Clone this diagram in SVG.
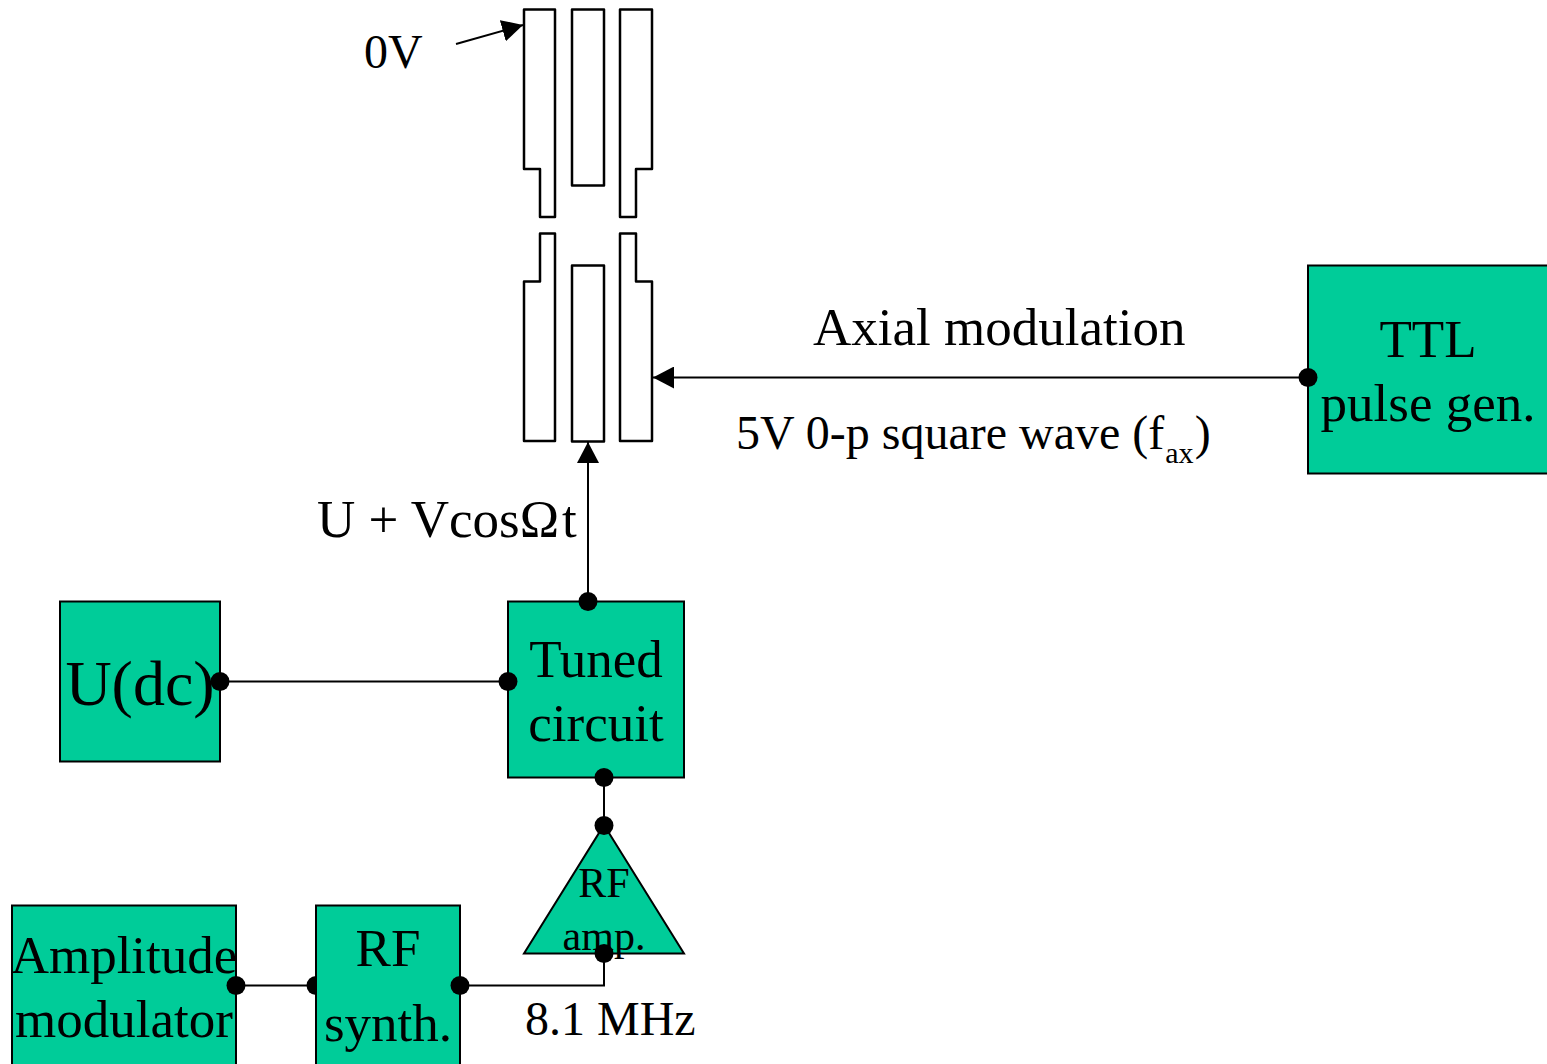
<svg xmlns="http://www.w3.org/2000/svg" width="1547" height="1064" viewBox="0 0 1547 1064">
<style>
.b{fill:#00cc99;stroke:#000;stroke-width:2}
.e{fill:#fff;stroke:#000;stroke-width:2.5;stroke-linejoin:round}
.c{fill:none;stroke:#000;stroke-width:2}
.d{fill:#000}
text{font-family:"Liberation Serif","Times New Roman",serif;fill:#000}
.t50{font-size:53px}
.t48{font-size:48px}
.t40{font-size:42px}
</style>
<defs><marker id="a" markerUnits="userSpaceOnUse" markerWidth="22" markerHeight="22" refX="21" refY="11" orient="auto"><path d="M0 0L21 11L0 22Z" fill="#000"/></marker></defs>
<rect width="1547" height="1064" fill="#fff"/>
<g id="electrodes">
<path class="e" d="M524 9.500H555V217H540V169H524Z"/>
<rect class="e" x="572" y="9.500" width="32" height="176"/>
<path class="e" d="M620 9.500H652V169H636V217H620Z"/>
<path class="e" d="M540 233.500H555V441H524V281.500H540Z"/>
<rect class="e" x="572" y="265.500" width="32" height="176"/>
<path class="e" d="M620 233.500H636V281.500H652V441H620Z"/>
</g>
<g id="connectors">
<path class="c" d="M456 44L523 25" marker-end="url(#a)"/>
<path class="c" d="M1308 377.500H653" marker-end="url(#a)"/>
<path class="c" d="M588 601V442" marker-end="url(#a)"/>
<path class="c" d="M220 681.500H508"/>
<path class="c" d="M604 777V825"/>
<path class="c" d="M236 985.500H316"/>
<path class="c" d="M460 985.500H604V953"/>
</g>
<circle class="d" cx="316" cy="985.500" r="9.500"/>
<g id="ttl"><rect class="b" x="1308" y="265.500" width="240" height="208"/><text class="t50" x="1428" y="357" text-anchor="middle">TTL</text><text class="t50" x="1428" y="421" text-anchor="middle">pulse gen.</text></g>
<g id="udc"><rect class="b" x="60" y="601.500" width="160" height="160"/><text x="140" y="705" font-size="64" text-anchor="middle">U(dc)</text></g>
<g id="tuned"><rect class="b" x="508" y="601.500" width="176" height="176"/><text class="t50" x="596" y="677" text-anchor="middle">Tuned</text><text class="t50" x="596" y="741" text-anchor="middle">circuit</text></g>
<g id="rfamp"><path class="b" d="M604 825L684 953.500H524Z"/><text class="t40" x="604" y="897" text-anchor="middle">RF</text><text class="t40" x="604" y="950" text-anchor="middle">amp.</text></g>
<g id="amod"><rect class="b" x="12" y="905.500" width="224" height="170"/><text class="t50" x="124" y="973" text-anchor="middle">Amplitude</text><text class="t50" x="124" y="1037" text-anchor="middle">modulator</text></g>
<g id="rfsyn"><rect class="b" x="316" y="905.500" width="144" height="170"/><text class="t50" x="388" y="966" text-anchor="middle">RF</text><text class="t50" x="388" y="1041" text-anchor="middle">synth.</text></g>
<g id="dots">
<circle class="d" cx="1308" cy="377.500" r="9.500"/><circle class="d" cx="588" cy="601.500" r="9.500"/><circle class="d" cx="220" cy="681.500" r="9.500"/><circle class="d" cx="508" cy="681.500" r="9.500"/><circle class="d" cx="604" cy="777.500" r="9.500"/><circle class="d" cx="604" cy="825.500" r="9.500"/><circle class="d" cx="604" cy="953.500" r="9.500"/><circle class="d" cx="236" cy="985.500" r="9.500"/><circle class="d" cx="460" cy="985.500" r="9.500"/>
</g>
<g id="labels">
<text class="t48" x="364" y="68">0V</text>
<text class="t50" x="813" y="345">Axial modulation</text>
<text class="t48" x="736" y="449">5V 0-p square wave (f<tspan font-size="30" dy="14" dx="1">ax</tspan><tspan dy="-14" dx="1">)</tspan></text>
<text class="t50" x="317" y="537">U + VcosΩ<tspan dx="3">t</tspan></text>
<text class="t48" x="525" y="1035">8.1 MHz</text>
</g>
</svg>
